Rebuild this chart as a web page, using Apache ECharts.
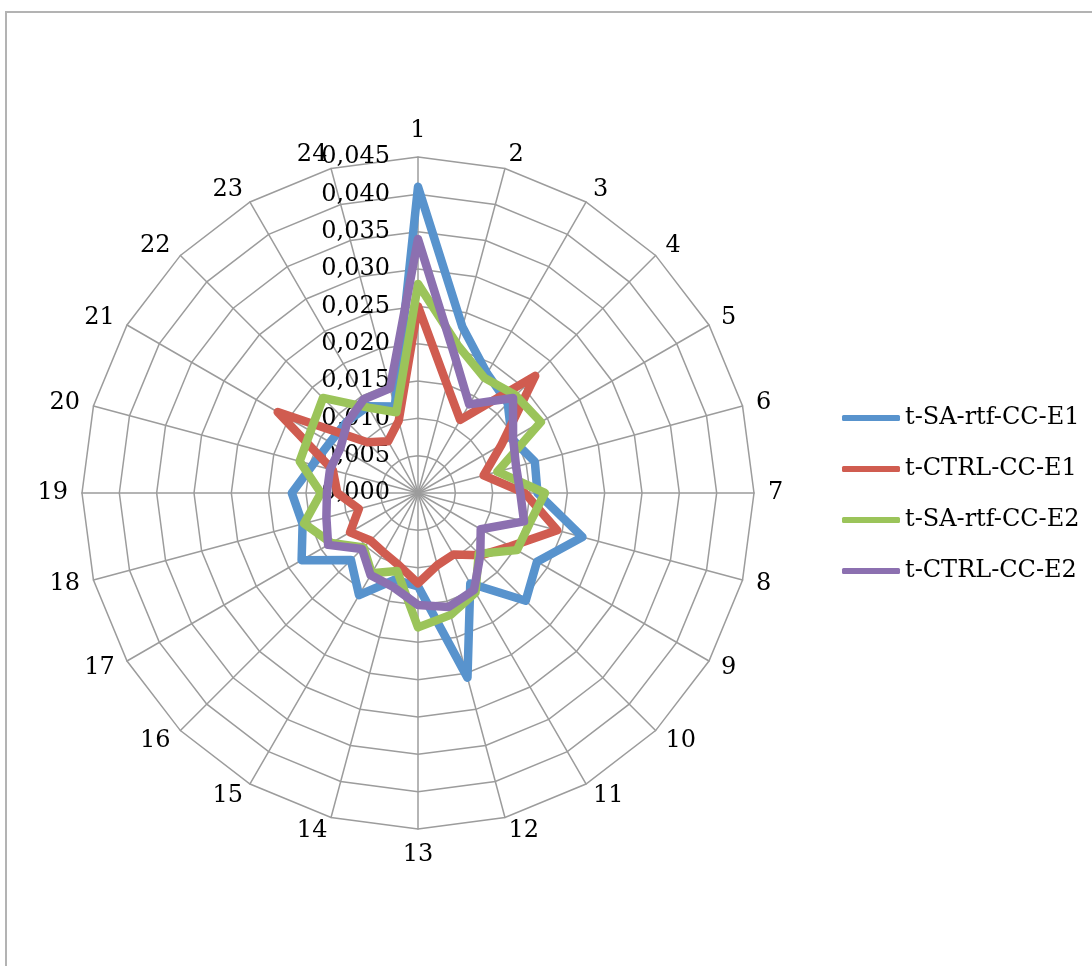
<!DOCTYPE html>
<html>
<head>
<meta charset="utf-8">
<script src="https://cdn.jsdelivr.net/npm/echarts@6/dist/echarts.min.js"></script>
<style>
  html, body { margin: 0; padding: 0; background: #fff; }
  #chart { width: 1092px; height: 966px; }
</style>
</head>
<body>
<div id="chart"></div>
<script>
// Hours of the day, one spoke each, running clockwise from the top
const categories = ['1','2','3','4','5','6','7','8','9','10','11','12',
                    '13','14','15','16','17','18','19','20','21','22','23','24'];

const seriesNames = ['t-SA-rtf-CC-E1', 't-CTRL-CC-E1', 't-SA-rtf-CC-E2', 't-CTRL-CC-E2'];

const saE1 = [0.0410, 0.0230, 0.0185, 0.0170, 0.0145, 0.0162, 0.0160, 0.0228,
              0.0184, 0.0204, 0.0140, 0.0256, 0.0125, 0.0120, 0.0158, 0.0127,
              0.0180, 0.0160, 0.0169, 0.0146, 0.0136, 0.0135, 0.0134, 0.0120];

const ctrlE1 = [0.0250, 0.0150, 0.0113, 0.0222, 0.0129, 0.0091, 0.0143, 0.0193,
                0.0143, 0.0118, 0.0095, 0.0100, 0.0121, 0.0100, 0.0092, 0.0090,
                0.0105, 0.0082, 0.0108, 0.0118, 0.0217, 0.0096, 0.0080, 0.0100];

const saE2 = [0.0280, 0.0205, 0.0178, 0.0185, 0.0190, 0.0110, 0.0170, 0.0155,
              0.0153, 0.0115, 0.0154, 0.0169, 0.0180, 0.0108, 0.0124, 0.0103,
              0.0134, 0.0158, 0.0130, 0.0164, 0.0166, 0.0180, 0.0132, 0.0112];

const ctrlE2 = [0.0340, 0.0190, 0.0137, 0.0180, 0.0147, 0.0136, 0.0137, 0.0147,
                0.0097, 0.0118, 0.0150, 0.0158, 0.0150, 0.0130, 0.0127, 0.0106,
                0.0139, 0.0127, 0.0122, 0.0122, 0.0120, 0.0134, 0.0145, 0.0145];

const axisTicks = ['0,000','0,005','0,010','0,015','0,020','0,025','0,030','0,035','0,040','0,045'];
const axisMax = 0.045;
const axisStep = 0.005;

const colors = ['#5893CD', '#D05C50', '#9BC45A', '#8C70B0'];
const serif = 'DejaVu Serif';

// ECharts lays radar spokes out counter-clockwise; walk the hours in reverse
// after the first one so they read clockwise.
const order = [0];
for (let i = categories.length - 1; i >= 1; i--) order.push(i);

const indicator = order.map((idx, k) => {
  const ind = { name: categories[idx], min: 0, max: axisMax };
  if (k === 0) ind.axisLabel = { show: true };
  return ind;
});

const allValues = [saE1, ctrlE1, saE2, ctrlE2];

const chart = echarts.init(document.getElementById('chart'), null, { renderer: 'canvas' });

chart.setOption({
  animation: false,
  backgroundColor: '#ffffff',
  graphic: [{
    type: 'rect',
    shape: { x: 6, y: 12, width: 1200, height: 1100 },
    style: { fill: 'none', stroke: '#b3b3b3', lineWidth: 2 },
    silent: true
  }],
  legend: {
    orient: 'vertical',
    left: 837,
    top: 401,
    itemWidth: 58,
    itemHeight: 6,
    itemGap: 27,
    icon: 'roundRect',
    data: seriesNames,
    textStyle: { fontFamily: serif, fontSize: 24, color: '#000' }
  },
  radar: {
    center: [418, 493],
    radius: 336,
    shape: 'polygon',
    splitNumber: axisTicks.length - 1,
    indicator: indicator,
    axisName: { color: '#000', fontFamily: serif, fontSize: 24 },
    nameGap: 14,
    axisLine: { lineStyle: { color: '#9c9c9c', width: 1.5 } },
    splitLine: { lineStyle: { color: '#9c9c9c', width: 1.5 } },
    splitArea: { show: false },
    axisTick: { show: false },
    axisLabel: {
      show: false,
      margin: 28,
      color: '#000',
      fontFamily: serif,
      fontSize: 24,
      formatter: function (v) {
        return axisTicks[Math.round(v / axisStep)];
      }
    }
  },
  series: [{
    type: 'radar',
    symbol: 'none',
    data: allValues.map((vals, s) => ({
      name: seriesNames[s],
      value: order.map(i => vals[i]),
      lineStyle: { color: colors[s], width: 8.5, join: 'round', cap: 'round' },
      itemStyle: { color: colors[s] }
    }))
  }]
});
</script>
</body>
</html>
